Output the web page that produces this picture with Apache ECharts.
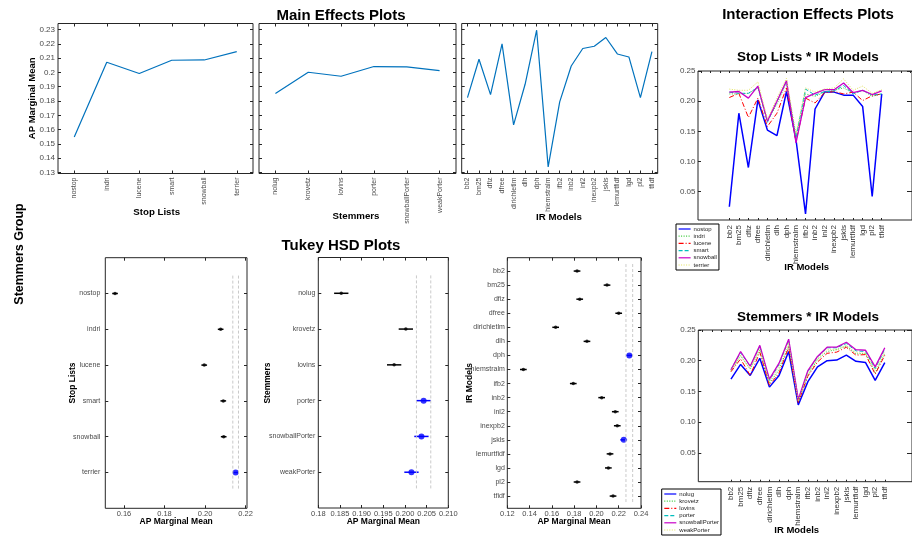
<!DOCTYPE html>
<html><head><meta charset="utf-8">
<script src="https://cdn.jsdelivr.net/npm/echarts@6/dist/echarts.min.js"></script>
<style>html,body{margin:0;padding:0;background:#fff}#c{width:912px;height:540px}</style>
</head><body><div id="c"></div>
<script>
// ---------- categories ----------
const stopLists = ['nostop','indri','lucene','smart','snowball','terrier'];
const stemmers = ['nolug','krovetz','lovins','porter','snowballPorter','weakPorter'];
const irModels = ['bb2','bm25','dfiz','dfree','dirichletlm','dlh','dph','hiemstralm','ifb2','inb2','inl2','inexpb2','jskls','lemurtfidf','lgd','pl2','tfidf'];

// ---------- main effects (AP marginal means) ----------
const mainStopLists = [0.1549,0.2071,0.1992,0.2085,0.2087,0.2145];
const mainStemmers = [0.1852,0.2001,0.1973,0.2041,0.2038,0.2013];
const mainIrModels = [0.1824,0.2092,0.1845,0.2199,0.1633,0.1917,0.2295,0.1339,0.1794,0.2045,0.2167,0.2183,0.2244,0.2129,0.2108,0.1824,0.2146];

// ---------- Tukey HSD ----------
const tukeyStopLists = [0.1556,0.2077,0.1996,0.2090,0.2092,0.2151];
const tukeyStemmers = [0.1853,0.2002,0.1975,0.2043,0.2038,0.2015];
const tukeyIrModels = [0.1826,0.2095,0.1850,0.2200,0.1634,0.1915,0.2295,0.1344,0.1792,0.2047,0.2169,0.2187,0.2245,0.2122,0.2107,0.1826,0.2149];
const tukeyStopTop = ['terrier'];
const tukeyStemTop = ['porter','snowballPorter','weakPorter'];
const tukeyIrTop = ['dph','jskls'];
const tukeyHalfWidths = [0.0014, 0.00165, 0.0030];

// ---------- interaction: stop lists * IR models ----------
const interNostop   = [0.025,0.180,0.090,0.202,0.152,0.143,0.216,0.136,0.013,0.187,0.215,0.215,0.210,0.210,0.191,0.042,0.212];
const interIndri    = [0.212,0.212,0.213,0.222,0.168,0.195,0.232,0.142,0.212,0.208,0.215,0.218,0.222,0.213,0.218,0.208,0.212];
const interLucene   = [0.206,0.213,0.173,0.205,0.158,0.180,0.222,0.133,0.205,0.197,0.214,0.216,0.212,0.215,0.201,0.209,0.212];
const interSmart    = [0.215,0.213,0.213,0.223,0.165,0.200,0.232,0.140,0.220,0.210,0.216,0.217,0.226,0.212,0.218,0.210,0.212];
const interSnowball = [0.215,0.216,0.205,0.225,0.167,0.200,0.234,0.131,0.206,0.213,0.219,0.219,0.230,0.214,0.218,0.211,0.217];
const interTerrier  = [0.220,0.218,0.218,0.232,0.170,0.205,0.238,0.145,0.222,0.215,0.220,0.222,0.237,0.218,0.225,0.213,0.219];

// ---------- interaction: stemmers * IR models ----------
const interNolug          = [0.170,0.194,0.176,0.204,0.157,0.176,0.215,0.128,0.166,0.190,0.200,0.201,0.209,0.199,0.197,0.168,0.197];
const interKrovetz        = [0.183,0.208,0.186,0.218,0.163,0.185,0.225,0.133,0.176,0.202,0.215,0.218,0.224,0.211,0.212,0.180,0.212];
const interLovins         = [0.182,0.203,0.176,0.214,0.160,0.180,0.222,0.132,0.175,0.198,0.212,0.214,0.222,0.209,0.210,0.178,0.209];
const interPorter         = [0.186,0.213,0.191,0.223,0.168,0.194,0.233,0.136,0.182,0.206,0.221,0.221,0.228,0.216,0.215,0.187,0.219];
const interSnowballPorter = [0.185,0.215,0.191,0.225,0.170,0.196,0.235,0.137,0.184,0.207,0.222,0.222,0.230,0.218,0.217,0.190,0.221];
const interWeakPorter     = [0.184,0.209,0.187,0.219,0.165,0.190,0.229,0.134,0.179,0.204,0.218,0.218,0.225,0.213,0.212,0.184,0.215];

// ---------- tick labels ----------
const meYTicks = [0.13,0.14,0.15,0.16,0.17,0.18,0.19,0.20,0.21,0.22,0.23];
const meYTickLabels = ['0.13','0.14','0.15','0.16','0.17','0.18','0.19','0.2','0.21','0.22','0.23'];
const tukeyStopTicks = [0.16,0.18,0.20,0.22];
const tukeyStopTickLabels = ['0.16','0.18','0.20','0.22'];
const tukeyStemTicks = [0.18,0.185,0.19,0.195,0.20,0.205,0.21];
const tukeyStemTickLabels = ['0.18','0.185','0.190','0.195','0.200','0.205','0.210'];
const tukeyIrTicks = [0.12,0.14,0.16,0.18,0.20,0.22,0.24];
const tukeyIrTickLabels = ['0.12','0.14','0.16','0.18','0.20','0.22','0.24'];
const interYTicks = [0.05,0.10,0.15,0.20,0.25];
const interYTickLabels = ['0.05','0.10','0.15','0.20','0.25'];

// ================= build =================
const FONT = '"Liberation Sans", Arial, Helvetica, sans-serif';
const BOX = '#262626';
const LABEL = '#4a4a4a';
const chart = echarts.init(document.getElementById('c'), null, {renderer:'canvas'});
const opt = {animation:false, backgroundColor:'#fff', grid:[], xAxis:[], yAxis:[], series:[], legend:[], graphic:[]};

function fmt(vals, labels){
  return function(v){ for (let i=0;i<vals.length;i++){ if (Math.abs(vals[i]-v)<1e-7) return labels[i]; } return ''; };
}
function range(a,b){ const r=[]; for(let i=a;i<=b;i++) r.push(i); return r; }
function addGrid(r){ opt.grid.push({left:r[0], top:r[1], width:r[2], height:r[3], show:true, borderColor:BOX, borderWidth:1, backgroundColor:'transparent'}); return opt.grid.length-1; }
function tick(extra){ return Object.assign({show:true, inside:true, length:3, lineStyle:{color:BOX, width:1}}, extra||{}); }
const noLine = {show:false, onZero:false};
const noSplit = {show:false};

function mePanel(r, cats, vals, showY){
  const gi = addGrid(r);
  const xi = opt.xAxis.length;
  opt.xAxis.push({gridIndex:gi, type:'category', data:cats, boundaryGap:true, position:'bottom', axisLine:noLine, splitLine:noSplit,
    axisTick:tick({alignWithLabel:true, interval:0}),
    axisLabel:{interval:0, rotate:90, fontSize:7, color:LABEL, fontFamily:FONT, margin:4}});
  opt.xAxis.push({gridIndex:gi, type:'category', data:cats, boundaryGap:true, position:'top', axisLine:noLine, splitLine:noSplit,
    axisTick:tick({alignWithLabel:true, interval:0}), axisLabel:{show:false}});
  const yi = opt.yAxis.length;
  const yb = {gridIndex:gi, type:'value', min:0.1293, max:0.2342, axisLine:noLine, splitLine:noSplit};
  opt.yAxis.push(Object.assign({}, yb, {position:'left', axisTick:tick({customValues:meYTicks}),
    axisLabel:{show:showY, customValues:meYTicks, formatter:fmt(meYTicks, meYTickLabels), fontSize:8, color:LABEL, fontFamily:FONT, margin:3}}));
  opt.yAxis.push(Object.assign({}, yb, {position:'right', axisTick:tick({customValues:meYTicks}), axisLabel:{show:false}}));
  opt.series.push({type:'line', xAxisIndex:xi, yAxisIndex:yi, data:vals, symbol:'none', silent:true,
    lineStyle:{color:'#0072BD', width:1.2}});
}

function tukeyPanel(r, cats, means, top, hw, xmin, xmax, xt, xl, ymin, ymax, yMargin){
  const gi = addGrid(r);
  const n = cats.length;
  const xi = opt.xAxis.length;
  const xb = {gridIndex:gi, type:'value', min:xmin, max:xmax, axisLine:noLine, splitLine:noSplit};
  opt.xAxis.push(Object.assign({}, xb, {position:'bottom', axisTick:tick({customValues:xt}),
    axisLabel:{customValues:xt, formatter:fmt(xt, xl), fontSize:7.5, color:LABEL, fontFamily:FONT, margin:2}}));
  opt.xAxis.push(Object.assign({}, xb, {position:'top', axisTick:tick({customValues:xt}), axisLabel:{show:false}}));
  const yi = opt.yAxis.length;
  const pos = range(1,n);
  const yb = {gridIndex:gi, type:'value', inverse:true, min:ymin, max:ymax, axisLine:noLine, splitLine:noSplit};
  opt.yAxis.push(Object.assign({}, yb, {position:'left', axisTick:tick({customValues:pos}),
    axisLabel:{customValues:pos, formatter:function(v){return cats[Math.round(v)-1]||'';}, fontSize:7, color:LABEL, fontFamily:FONT, margin:yMargin}}));
  opt.yAxis.push(Object.assign({}, yb, {position:'right', axisTick:tick({customValues:pos}), axisLabel:{show:false}}));
  let best = Math.max.apply(null, means);
  [best-hw, best+hw].forEach(function(xv){
    opt.series.push({type:'line', xAxisIndex:xi, yAxisIndex:yi, data:[[xv,0.5],[xv,n+0.5]], symbol:'none', silent:true,
      lineStyle:{color:'#c4c4c4', width:0.9, type:[3,2]}});
  });
  opt.series.push({type:'custom', xAxisIndex:xi, yAxisIndex:yi, silent:true,
    data: means.map(function(m,i){ return [m, i+1, hw, top.indexOf(cats[i])>=0?1:0]; }),
    encode:{x:0, y:1},
    renderItem:function(params, api){
      const m=api.value(0), y=api.value(1), h=api.value(2), t=api.value(3);
      const p1=api.coord([m-h,y]), p2=api.coord([m+h,y]);
      return {type:'line', shape:{x1:p1[0],y1:p1[1],x2:p2[0],y2:p2[1]}, style:{stroke:t?'#0000ff':'#000', lineWidth:1.5}};
    }});
  opt.series.push({type:'scatter', xAxisIndex:xi, yAxisIndex:yi, silent:true, symbolSize:3.5, itemStyle:{color:'#000'},
    data: means.map(function(m,i){ return top.indexOf(cats[i])>=0 ? null : [m,i+1]; }).filter(Boolean)});
  opt.series.push({type:'scatter', xAxisIndex:xi, yAxisIndex:yi, silent:true, symbolSize:6, itemStyle:{color:'#0000ff'},
    data: means.map(function(m,i){ return top.indexOf(cats[i])>=0 ? [m,i+1] : null; }).filter(Boolean)});
}

const interStyles = [
  {color:'#0000ff', width:1.5, type:'solid'},
  {color:'#38c838', width:1, type:[1,1.5]},
  {color:'#ff0000', width:1, type:[5,2,1,2]},
  {color:'#00bebe', width:1, type:[4,2]},
  {color:'#c800c8', width:1.3, type:'solid'},
  {color:'#e2e25a', width:1, type:[1,1.5]}
];

function interPanel(r, xmin, xmax, names, valsList, legendPos){
  const gi = addGrid(r);
  const xi = opt.xAxis.length;
  const pos = range(1, irModels.length);
  const xb = {gridIndex:gi, type:'value', min:xmin, max:xmax, axisLine:noLine, splitLine:noSplit};
  opt.xAxis.push(Object.assign({}, xb, {position:'bottom', axisTick:tick({customValues:pos, length:2}),
    axisLabel:{customValues:pos, formatter:function(v){return irModels[Math.round(v)-1]||'';}, rotate:90, fontSize:8, color:'#333', fontFamily:FONT, margin:5}}));
  opt.xAxis.push(Object.assign({}, xb, {position:'top', axisTick:tick({customValues:range(-2,20), length:2}), axisLabel:{show:false}}));
  const yi = opt.yAxis.length;
  const yb = {gridIndex:gi, type:'value', min:0.003, max:0.25, axisLine:noLine, splitLine:noSplit};
  opt.yAxis.push(Object.assign({}, yb, {position:'left', axisTick:tick({customValues:interYTicks}),
    axisLabel:{customValues:interYTicks, formatter:fmt(interYTicks, interYTickLabels), fontSize:8, color:LABEL, fontFamily:FONT, margin:2.5}}));
  opt.yAxis.push(Object.assign({}, yb, {position:'right', axisTick:tick({customValues:interYTicks, length:5}), axisLabel:{show:false}}));
  names.forEach(function(nm, k){
    opt.series.push({type:'line', name:nm, xAxisIndex:xi, yAxisIndex:yi, symbol:'none', silent:true,
      data: valsList[k].map(function(v,i){ return [i+1, v]; }),
      lineStyle:{color:interStyles[k].color, width:interStyles[k].width, type:interStyles[k].type},
      itemStyle:{color:interStyles[k].color}});
  });
  opt.legend.push({data:names, orient:'vertical', left:legendPos[0], top:legendPos[1], itemWidth:12, itemHeight:5, itemGap:0.2,
    padding:[1.5,2,1.5,2], borderColor:'#000', borderWidth:1, backgroundColor:'#fff', selectedMode:false,
    itemStyle:{opacity:0}, lineStyle:{width:1.2},
    textStyle:{fontSize:6, lineHeight:7, color:'#222', fontFamily:FONT, padding:[0,0,0,-2]}});
}

function txt(x, y, s, size, rot){
  opt.graphic.push({type:'text', x:x, y:y, rotation: rot ? Math.PI/2 : 0, silent:true, z:100,
    style:{text:s, font:'bold '+size+'px '+FONT, fill:'#000', align:'center', verticalAlign:'middle', textAlign:'center', textVerticalAlign:'middle'}});
}

// main effects
mePanel([58,23.5,195,150], stopLists, mainStopLists, true);
mePanel([259,23.5,197,150], stemmers, mainStemmers, false);
mePanel([461.7,23.5,196,150], irModels, mainIrModels, false);

// tukey
tukeyPanel([105.3,257.7,141.7,250.6], stopLists, tukeyStopLists, tukeyStopTop, tukeyHalfWidths[0], 0.1508, 0.2207, tukeyStopTicks, tukeyStopTickLabels, 0, 7, 5);
tukeyPanel([318.3,257.5,130,250.5], stemmers, tukeyStemmers, tukeyStemTop, tukeyHalfWidths[1], 0.18, 0.21, tukeyStemTicks, tukeyStemTickLabels, 0, 7, 3);
tukeyPanel([507.3,257.7,133.7,250.6], irModels, tukeyIrModels, tukeyIrTop, tukeyHalfWidths[2], 0.12, 0.24, tukeyIrTicks, tukeyIrTickLabels, 0.05, 17.87, 2.5);

// interactions
interPanel([698,71,214,149], -2.29, 20.18, stopLists,
  [interNostop, interIndri, interLucene, interSmart, interSnowball, interTerrier], [676,224]);
interPanel([698.3,330,214,151.7], -2.4, 19.83, stemmers,
  [interNolug, interKrovetz, interLovins, interPorter, interSnowballPorter, interWeakPorter], [661.7,489]);

// texts
txt(341, 16, 'Main Effects Plots', 15);
txt(32.3, 98.3, 'AP Marginal Mean', 9.5, true);
txt(156.7, 212, 'Stop Lists', 9.7);
txt(356, 216, 'Stemmers', 9.7);
txt(559, 217, 'IR Models', 9.7);
txt(341, 246, 'Tukey HSD Plots', 15);
txt(72.7, 383, 'Stop Lists', 8.5, true);
txt(267.7, 383, 'Stemmers', 8.5, true);
txt(470, 383, 'IR Models', 8.5, true);
txt(176.2, 521.5, 'AP Marginal Mean', 8.5);
txt(383.3, 521.5, 'AP Marginal Mean', 8.5);
txt(574, 521.5, 'AP Marginal Mean', 8.5);
txt(20, 254, 'Stemmers Group', 12.5, true);
txt(808, 15, 'Interaction Effects Plots', 15);
txt(808, 57, 'Stop Lists * IR Models', 13.5);
txt(808, 317.5, 'Stemmers * IR Models', 13.5);
txt(806.7, 267.3, 'IR Models', 9.5);
txt(796.7, 530, 'IR Models', 9.5);

chart.setOption(opt);
</script></body></html>
